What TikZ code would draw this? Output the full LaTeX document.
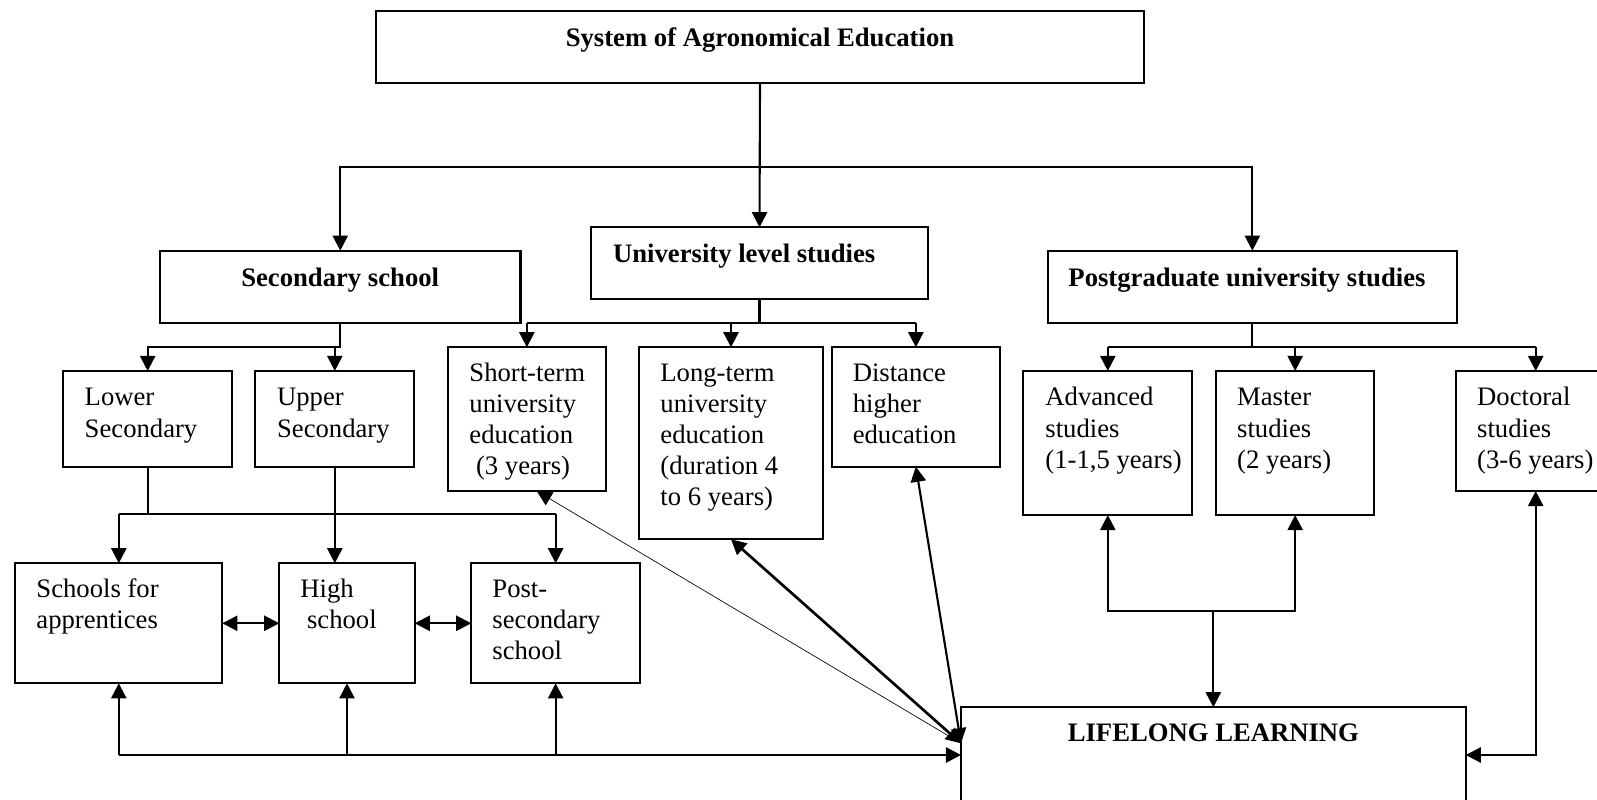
\documentclass[tikz,border=0pt]{standalone}
\usepackage{fontspec}
\setmainfont{Liberation Serif}
\usetikzlibrary{arrows.meta,calc}
\newcommand\mkbox[5]{\node[box, minimum width={(#4-#2)*0.45pt}, minimum height={(#5-#3)*0.45pt}] (#1) at ({(#2+#4)/2},{(#3+#5)/2}) {};}
\newcommand\mlines[1]{\begin{tabular}[t]{@{}l@{}}#1\end{tabular}}
\begin{document}
\begin{tikzpicture}[x=0.45pt,y=-0.45pt,
  box/.style={draw, line width=1pt, inner sep=0pt, outer sep=0pt},
  txt/.style={inner sep=0pt, anchor=base west, font=\fontsize{12}{13.95}\selectfont},
  btxt/.style={inner sep=0pt, anchor=base west, font=\fontsize{12}{13.95}\selectfont\bfseries},
  conn/.style={line width=0.95pt},
  tip/.tip={Triangle[length=6.8pt,width=6.8pt]},
  arr/.style={conn, -tip},
  darr/.style={conn, tip-tip},
  thinarr/.style={line width=0.3pt, tip-},
]
\useasboundingbox (0,0) rectangle (1597,800);
\fill[white] (0,0) rectangle (1597,800);

% boxes
\mkbox{top}{376}{11}{1144}{82.7}
\mkbox{sec}{160}{250.7}{520.5}{323.3}
\mkbox{univ}{591}{227.3}{928}{299}
\mkbox{pg}{1048}{250.7}{1456.7}{323.3}
\mkbox{lower}{63.3}{371}{232}{467}
\mkbox{upper}{255.3}{371}{414.3}{467}
\mkbox{short}{447.7}{347.3}{606}{491}
\mkbox{long}{639.3}{347.3}{822.7}{539.3}
\mkbox{dist}{831.7}{347.3}{1000}{466.7}
\mkbox{adv}{1023.3}{371}{1192.3}{515}
\mkbox{master}{1216}{371}{1374.3}{515}
\mkbox{doc}{1455.7}{371}{1615.7}{491}
\mkbox{schools}{15.3}{563.3}{222.3}{683.3}
\mkbox{high}{279.3}{563.3}{414.7}{683.3}
\mkbox{post}{471.3}{563.3}{640}{683.3}
\mkbox{ll}{961}{707.3}{1465.7}{830}

% texts
\node[btxt, anchor=base] (t-top) at (760,46.7) {System of Agronomical Education};
\node[btxt, anchor=base] (t-sec) at (340.2,286.7) {Secondary school};
\node[btxt] (t-univ) at (612.7,262.7) {University level studies};
\node[btxt] (t-pg) at (1068,286.7) {Postgraduate university studies};
\node[txt] (t-lower) at (84.3,406) {\mlines{Lower\\Secondary}};
\node[txt] (t-upper) at (276.7,406) {\mlines{Upper\\Secondary}};
\node[txt] (t-short) at (469,381.5) {\mlines{Short-term\\university\\education\\\ (3 years)}};
\node[txt] (t-long) at (660,381.5) {\mlines{Long-term\\university\\education\\(duration 4\\to 6 years)}};
\node[txt] (t-dist) at (852.3,381.5) {\mlines{Distance\\higher\\education}};
\node[txt] (t-adv) at (1045,406) {\mlines{Advanced\\studies\\(1-1,5 years)}};
\node[txt] (t-master) at (1236.7,406) {\mlines{Master\\studies\\(2 years)}};
\node[txt] (t-doc) at (1476.7,406) {\mlines{Doctoral\\studies\\(3-6 years)}};
\node[txt] (t-schools) at (36,597.3) {\mlines{Schools for\\apprentices}};
\node[txt] (t-high) at (300,597.3) {\mlines{High\\\ school}};
\node[txt] (t-post) at (492,597.3) {\mlines{Post-\\secondary\\school}};
\node[btxt, anchor=base] (t-ll) at (1213.4,741.7) {LIFELONG LEARNING};

% coordinates of buses
\coordinate (bus) at (760,166.7);
\coordinate (sbus) at (340,346.7);
\coordinate (ubus) at (760,322.7);
\coordinate (pbus) at (1252,346.7);
\coordinate (lbus) at (119,514.3);
\coordinate (bl) at (119,755);
\coordinate (amj) at (1213,611);
\coordinate (conv) at ([yshift=-16.2pt]ll.north west);

% level 1
\draw[arr] (top.south) -- (univ.north);
\draw[arr] (bus) -| (sec.north);
\draw[arr] (bus) -| (pg.north);

% secondary branch
\draw[arr] (sec.south) -- (sec.south |- sbus) -| (lower.north);
\draw[arr] (upper.north |- sbus) -- (upper.north);

% university branch
\draw[conn] (univ.south) -- (univ.south |- ubus);
\draw[conn] (short.north |- ubus) -- (dist.north |- ubus);
\draw[arr] (short.north |- ubus) -- (short.north);
\draw[arr] (long.north |- ubus) -- (long.north);
\draw[arr] (dist.north |- ubus) -- (dist.north);

% postgraduate branch
\draw[conn] (pg.south) -- (pg.south |- pbus);
\draw[conn] (adv.north |- pbus) -- (doc.north |- pbus);
\draw[arr] (adv.north |- pbus) -- (adv.north);
\draw[arr] (master.north |- pbus) -- (master.north);
\draw[arr] (doc.north |- pbus) -- (doc.north);

% lower/upper to schools
\draw[conn] (lower.south) -- (lower.south |- lbus);
\draw[conn] (schools.north |- lbus) -- (post.north |- lbus);
\draw[arr] (schools.north |- lbus) -- (schools.north);
\draw[arr] (post.north |- lbus) -- (post.north);
\draw[arr] (upper.south) -- (upper.south |- high.north);

% between schools
\draw[darr] (schools.east) -- (high.west);
\draw[darr] (high.east) -- (post.west);

% bottom line to lifelong
\draw[arr, line width=1.2pt] (schools.south |- bl) -- (ll.west |- bl);
\draw[arr] (schools.south |- bl) -- (schools.south);
\draw[arr] (high.south |- bl) -- (high.south);
\draw[arr] (post.south |- bl) -- (post.south);

% diagonals
\draw[thinarr] ([xshift=4.4pt]short.south) -- (conv);
\draw[darr, line width=1.2pt] (long.south) -- (conv);
\draw[darr] (dist.south) -- (conv);

% postgraduate to lifelong
\draw[darr] (adv.south) -- (adv.south |- amj) -- (master.south |- amj) -- (master.south);
\draw[arr] (ll.north |- amj) -- (ll.north);
\draw[darr] (doc.south) |- (ll.east |- bl);
\end{tikzpicture}
\end{document}
